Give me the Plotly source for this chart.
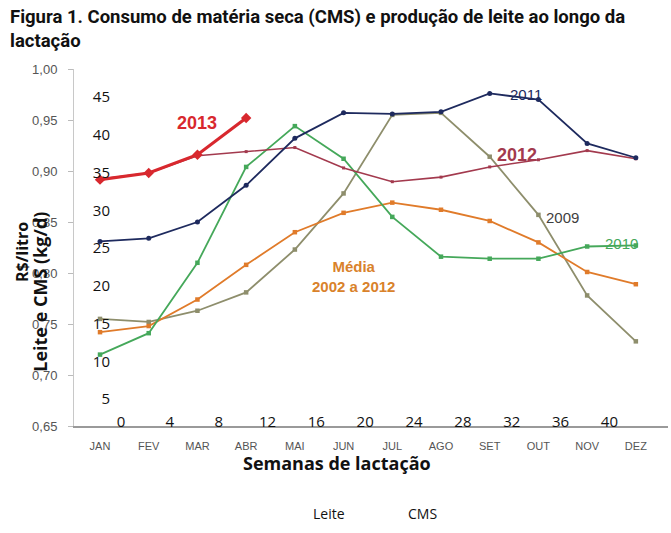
import plotly.graph_objects as go

months = ["JAN", "FEV", "MAR", "ABR", "MAI", "JUN", "JUL", "AGO", "SET", "OUT", "NOV", "DEZ"]
month_idx = list(range(12))

price_2009 = [0.755, 0.752, 0.763, 0.781, 0.823, 0.878, 0.955, 0.957, 0.914, 0.857, 0.778, 0.733]
price_media = [0.742, 0.748, 0.774, 0.808, 0.840, 0.859, 0.869, 0.862, 0.851, 0.830, 0.801, 0.789]
price_2010 = [0.720, 0.741, 0.810, 0.904, 0.944, 0.912, 0.855, 0.816, 0.814, 0.814, 0.826, 0.827]
price_2012 = [0.892, 0.898, 0.915, 0.919, 0.923, 0.903, 0.8895, 0.894, 0.904, 0.911, 0.920, 0.912]
price_2011 = [0.831, 0.834, 0.850, 0.886, 0.932, 0.957, 0.956, 0.958, 0.976, 0.970, 0.927, 0.913]
price_2013 = [0.8915, 0.898, 0.916, 0.952]

price_ticks = [0.65, 0.70, 0.75, 0.80, 0.85, 0.90, 0.95, 1.00]
week_ticks = [0, 4, 8, 12, 16, 20, 24, 28, 32, 36, 40]
kg_ticks = [5, 10, 15, 20, 25, 30, 35, 40, 45]

# Leite / CMS series (no visible values in the reference)
leite_weeks = [None]
leite_vals = [None]
cms_weeks = [None]
cms_vals = [None]

fig = go.Figure()

def add_price(y, name, color, width=1.8, msize=4.5, symbol="square"):
    fig.add_trace(go.Scatter(
        x=month_idx[:len(y)], y=y, name=name, mode="lines+markers",
        line=dict(color=color, width=width),
        marker=dict(color=color, size=msize, symbol=symbol),
        showlegend=False, hoverinfo="skip"))

add_price(price_2009, "2009", "#8e8e6c")
add_price(price_media, "Média 2002 a 2012", "#e07b2a")
add_price(price_2010, "2010", "#45a85a")
add_price(price_2012, "2012", "#a33a4e", width=1.6, msize=3)
add_price(price_2011, "2011", "#1e2a5e", msize=5, symbol="circle")
add_price(price_2013, "2013", "#d8282e", width=3.2, msize=8, symbol="diamond")

fig.add_trace(go.Scatter(x=leite_weeks, y=leite_vals, name="Leite", mode="lines", showlegend=True,
                         line=dict(color="rgba(0,0,0,0)"), xaxis="x2", yaxis="y2"))
fig.add_trace(go.Scatter(x=cms_weeks, y=cms_vals, name="CMS", mode="lines", showlegend=True,
                         line=dict(color="rgba(0,0,0,0)"), xaxis="x2", yaxis="y2"))

annos = [
    dict(x=2.0, y=0.947, text="<b>2013</b>", color="#d8282e", size=18),
    dict(x=8.75, y=0.975, text="2011", color="#1e2a5e", size=15),
    dict(x=8.55, y=0.916, text="<b>2012</b>", color="#a33a4e", size=18),
    dict(x=9.5, y=0.854, text="2009", color="#3f3f3f", size=15),
    dict(x=10.7, y=0.829, text="2010", color="#45a85a", size=15),
    dict(x=5.2, y=0.797, text="<b>Média<br>2002 a 2012</b>", color="#d9822b", size=15),
]
annotations = []
for a in annos:
    annotations.append(dict(x=a["x"], y=a["y"], xref="x", yref="y", text=a["text"],
                            xanchor="center", yanchor="middle", showarrow=False,
                            font=dict(family="Liberation Sans, Arial", size=a["size"], color=a["color"])))

PW, PH, L, T = 594, 359, 74, 69
def px(x):
    return (x - L) / PW
def py(y):
    return (T + PH - y) / PH

annotations += [
    dict(x=px(8), y=py(4), xref="paper", yref="paper", xanchor="left", yanchor="top", align="left",
         text="<b>Figura 1. Consumo de matéria seca (CMS) e produção de leite ao longo da<br>lactação</b>",
         showarrow=False, font=dict(family="Roboto, Open Sans, sans-serif", size=18.5, color="#111")),
    dict(x=px(22), y=py(253), xref="paper", yref="paper", xanchor="center", yanchor="middle",
         text="<b>R$/litro</b>", textangle=-90, showarrow=False,
         font=dict(family="Open Sans, sans-serif", size=16, color="#111")),
    dict(x=px(40), y=py(293), xref="paper", yref="paper", xanchor="center", yanchor="middle",
         text="<b>Leite e CMS (kg/d)</b>", textangle=-90, showarrow=False,
         font=dict(family="Open Sans, sans-serif", size=18, color="#111")),
    dict(x=px(337), y=py(465), xref="paper", yref="paper", xanchor="center", yanchor="middle",
         text="<b>Semanas de lactação</b>", showarrow=False,
         font=dict(family="Open Sans, sans-serif", size=18, color="#111")),
]

fig.update_layout(
    width=671, height=533,
    margin=dict(l=L, r=671 - L - PW, t=T, b=533 - T - PH),
    paper_bgcolor="white", plot_bgcolor="white",
    separators=",.",
    showlegend=True,
    xaxis=dict(range=[-0.534, 11.66], tickvals=month_idx, ticktext=months, showgrid=False, zeroline=False,
               showline=True, linecolor="#9a9a9a", linewidth=2, ticks="",
               tickfont=dict(family="Liberation Sans, Arial", size=11, color="#555"), ticklabelstandoff=9),
    yaxis=dict(range=[0.65, 1.0], tickvals=price_ticks, tickformat=".2f", showgrid=False, zeroline=False,
               showline=True, linecolor="#c8c8c8", linewidth=1, ticks="outside", ticklen=5, tickcolor="#bbb",
               tickfont=dict(family="Liberation Sans, Arial", size=13, color="#555"), ticklabelstandoff=8),
    xaxis2=dict(range=[-3.85, 44.8], tickvals=week_ticks, overlaying="x", anchor="free", position=0.042,
                showgrid=False, zeroline=False, showline=False, ticks="",
                tickfont=dict(family="Open Sans, sans-serif", size=15, color="#111")),
    yaxis2=dict(range=[1.45, 48.7], tickvals=kg_ticks, overlaying="y", anchor="free", position=0.0606,
                side="left", showgrid=False, zeroline=False, showline=False, ticks="",
                tickfont=dict(family="Open Sans, sans-serif", size=15, color="#111")),
    legend=dict(orientation="h", x=px(273), y=py(516), xanchor="left", yanchor="middle",
                entrywidth=50, entrywidthmode="pixels",
                font=dict(family="Open Sans, sans-serif", size=14, color="#111"), bgcolor="rgba(0,0,0,0)"),
    annotations=annotations,
)

fig.write_html("out.html")
